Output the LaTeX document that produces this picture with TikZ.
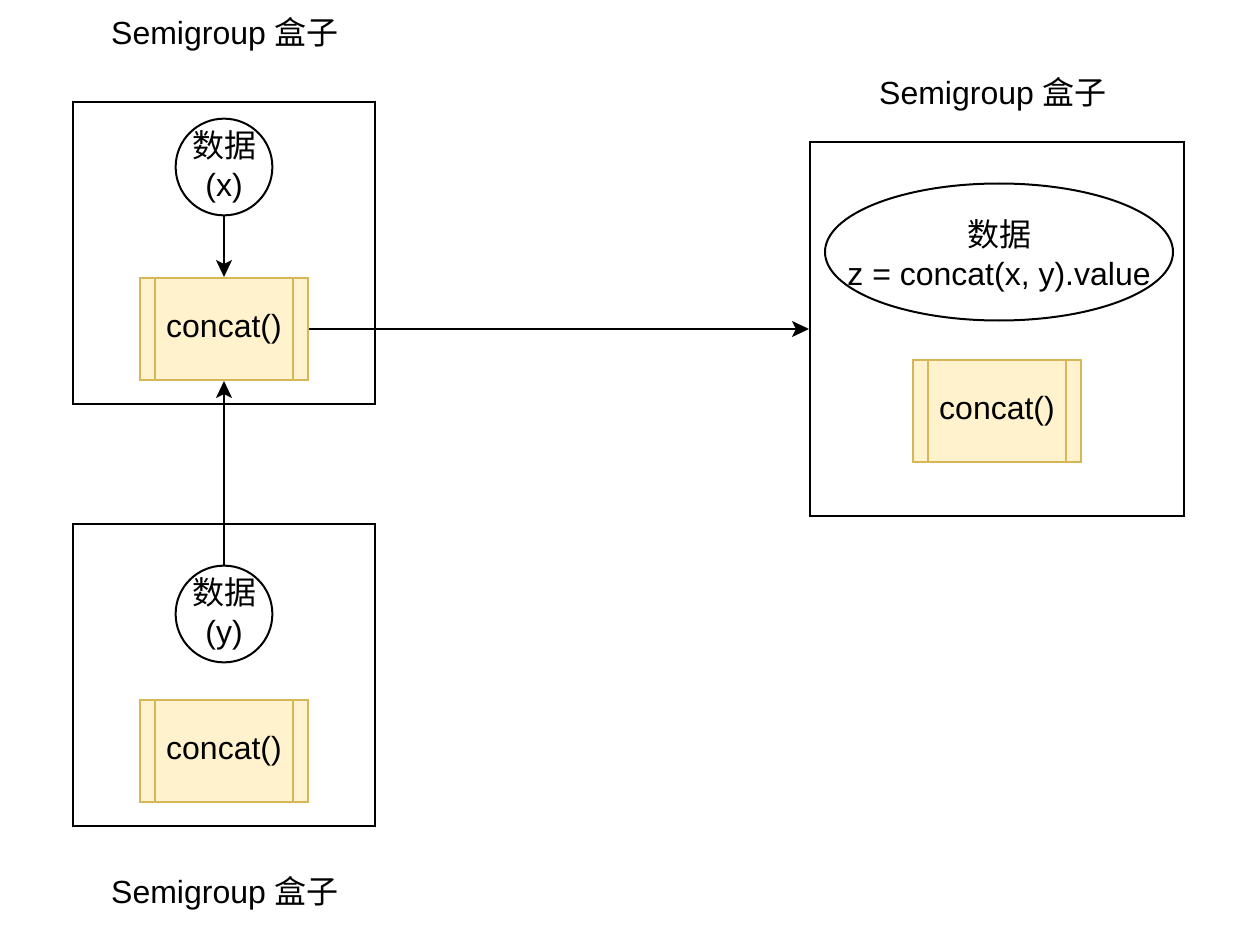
\documentclass[tikz,border=0pt]{standalone}
\usepackage{fontspec}
\setmainfont{Liberation Sans}
\newfontfamily\cjk{Noto Sans CJK SC}
\usepackage{xcolor}
\usepackage{tikz}
\usetikzlibrary{arrows.meta, shapes.geometric}

\definecolor{procfill}{HTML}{FFF2CC}
\definecolor{procline}{HTML}{D6B656}

\begin{document}
\begin{tikzpicture}[x=1pt, y=-1pt, font=\fontsize{32}{39}\selectfont,
    box/.style={draw, line width=2pt, inner sep=0pt},
    proc/.style={draw=procline, fill=procfill, line width=2pt, minimum width=168pt, minimum height=102pt, inner sep=0pt},
    datum/.style={draw, circle, line width=2pt, minimum size=96pt, inner sep=0pt, align=center},
    arr/.style={-{Stealth[length=17pt, width=16pt, inset=4pt]}, line width=2pt}]
    \fill[white] (0,0) rectangle (1242,944);
    \useasboundingbox (0,0) rectangle (1242,944);

    % boxes
    \node[box, minimum width=302pt, minimum height=302pt] (boxX) at (224,253) {};
    \node[box, minimum width=302pt, minimum height=302pt] (boxY) at (224,675) {};
    \node[box, minimum width=374pt, minimum height=374pt] (boxZ) at (997,329) {};

    \node[anchor=base] (titleX) at (225,45) {Semigroup {\cjk 盒子}};
    \node[anchor=base] (titleY) at (225,903) {Semigroup {\cjk 盒子}};
    \node[anchor=base] (titleZ) at (993,105) {Semigroup {\cjk 盒子}};

    % data
    \node[datum] (dataX) at (224,167) {{\cjk 数据}\\(x)};
    \node[datum] (dataY) at (224,614) {{\cjk 数据}\\(y)};
    \node[draw, ellipse, line width=2pt, minimum width=348pt, minimum height=137pt] (dataZ) at (999,252) {};
    \node[align=center] (textZ) at (999,256) {{\cjk 数据}\\z = concat(x, y).value};

    % concat
    \node[proc] (concatX) at (224,329) {concat()};
    \node[proc] (concatY) at (224,751) {concat()};
    \node[proc] (concatZ) at (997,411) {concat()};
    \foreach \n in {concatX, concatY, concatZ} {
        \draw[procline, line width=2pt] ([xshift=16pt]\n.north west) -- ([xshift=16pt]\n.south west);
        \draw[procline, line width=2pt] ([xshift=-16pt]\n.north east) -- ([xshift=-16pt]\n.south east);
    }

    \draw[arr] (dataX) -- (concatX);
    \draw[arr] (dataY) -- (concatX);
    \draw[arr] (concatX) -- (boxZ);
\end{tikzpicture}
\end{document}
